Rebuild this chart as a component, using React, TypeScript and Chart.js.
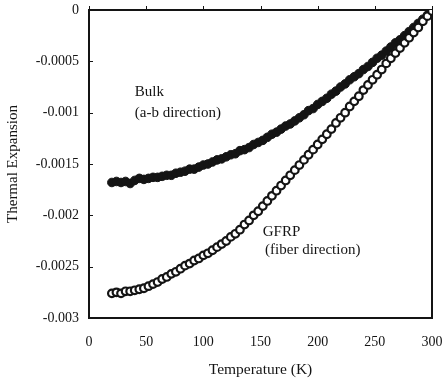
import React, { useEffect, useRef } from "react";
import { Chart, registerables } from "chart.js";

Chart.register(...registerables);

const temperatures = [
  20, 24, 28, 32, 36, 40, 44, 48, 52, 56, 60, 64, 68, 72, 76, 80, 84, 88, 92, 96,
  100, 104, 108, 112, 116, 120, 124, 128, 132, 136, 140, 144, 148, 152, 156, 160,
  164, 168, 172, 176, 180, 184, 188, 192, 196, 200, 204, 208, 212, 216, 220, 224,
  228, 232, 236, 240, 244, 248, 252, 256, 260, 264, 268, 272, 276, 280, 284, 288,
  292, 296, 300,
];

const bulkValues = [
  -0.00168, -0.00167, -0.00168, -0.00167, -0.00169, -0.00166, -0.00164, -0.00165,
  -0.00164, -0.00163, -0.00163, -0.00162, -0.00161, -0.00161, -0.00159, -0.00158,
  -0.00157, -0.00155, -0.00155, -0.00153, -0.00151, -0.0015, -0.00148, -0.00146,
  -0.00145, -0.00143, -0.00141, -0.0014, -0.00137, -0.00136, -0.00134, -0.00131,
  -0.00129, -0.00127, -0.00124, -0.00121, -0.00119, -0.00116, -0.00113, -0.00111,
  -0.00108, -0.00105, -0.00102, -0.00098, -0.00096, -0.00092, -0.00089, -0.00086,
  -0.00082, -0.00079, -0.00075, -0.00072, -0.00068, -0.00065, -0.00062, -0.00058,
  -0.00055, -0.00051, -0.00047, -0.00044, -0.0004, -0.00036, -0.00032, -0.00029,
  -0.00025, -0.00021, -0.00017, -0.00013, -0.00009, -0.00005, -0.00001,
];

const gfrpValues = [
  -0.00276, -0.00275, -0.00276, -0.00274, -0.00274, -0.00273, -0.00272, -0.00271,
  -0.00269, -0.00267, -0.00265, -0.00262, -0.0026, -0.00257, -0.00255, -0.00252,
  -0.00249, -0.00247, -0.00244, -0.00242, -0.00239, -0.00237, -0.00234, -0.00231,
  -0.00228, -0.00225, -0.00221, -0.00218, -0.00214, -0.00209, -0.00205, -0.002,
  -0.00196, -0.00191, -0.00186, -0.00181, -0.00176, -0.00171, -0.00166, -0.00161,
  -0.00156, -0.00151, -0.00146, -0.00141, -0.00136, -0.00131, -0.00126, -0.00121,
  -0.00116, -0.0011, -0.00105, -0.001, -0.00094, -0.00089, -0.00084, -0.00078,
  -0.00073, -0.00068, -0.00063, -0.00058, -0.00052, -0.00047, -0.00042, -0.00037,
  -0.00032, -0.00027, -0.00022, -0.00017, -0.00011, -0.00006, -0.00001,
];

const xTicks = [0, 50, 100, 150, 200, 250, 300];
const yTicks = [0, -0.0005, -0.001, -0.0015, -0.002, -0.0025, -0.003];
const yTickLabels = ["0", "-0.0005", "-0.001", "-0.0015", "-0.002", "-0.0025", "-0.003"];

const annotations = [
  { text: "Bulk", x: 40, y: -0.0008 },
  { text: "(a-b direction)", x: 40, y: -0.001 },
  { text: "GFRP", x: 152, y: -0.00216 },
  { text: "(fiber direction)", x: 154, y: -0.00234 },
];

const FONT = "'Liberation Serif', 'Times New Roman', serif";
const INK = "#141414";

export default function App() {
  const canvasRef = useRef<HTMLCanvasElement | null>(null);

  useEffect(() => {
    const canvas = canvasRef.current;
    if (!canvas) return;

    const framePlugin = {
      id: "frameAndText",
      beforeDatasetsDraw(chart: any) {
        const { ctx, chartArea } = chart;
        const xs = chart.scales.x;
        const ys = chart.scales.y;
        ctx.save();
        ctx.strokeStyle = INK;
        ctx.lineWidth = 2;
        ctx.strokeRect(
          chartArea.left,
          chartArea.top,
          chartArea.right - chartArea.left,
          chartArea.bottom - chartArea.top
        );
        ctx.lineWidth = 1;
        yTicks.forEach((v) => {
          const py = Math.round(ys.getPixelForValue(v)) + 0.5;
          ctx.beginPath();
          ctx.moveTo(chartArea.left, py);
          ctx.lineTo(chartArea.left + 4, py);
          ctx.stroke();
        });
        xTicks.forEach((v) => {
          const px = Math.round(xs.getPixelForValue(v)) + 0.5;
          ctx.beginPath();
          ctx.moveTo(px, chartArea.top);
          ctx.lineTo(px, chartArea.top - 4);
          ctx.stroke();
        });
        ctx.fillStyle = INK;
        ctx.font = `15px ${FONT}`;
        ctx.textAlign = "left";
        ctx.textBaseline = "middle";
        annotations.forEach((a) => {
          ctx.fillText(a.text, xs.getPixelForValue(a.x), ys.getPixelForValue(a.y));
        });
        ctx.restore();
      },
    };

    const chart = new Chart(canvas, {
      type: "scatter",
      data: {
        datasets: [
          {
            label: "GFRP (fiber direction)",
            data: temperatures.map((t, i) => ({ x: t, y: gfrpValues[i] })),
            pointRadius: 3.8,
            pointBackgroundColor: "#ffffff",
            pointBorderColor: INK,
            pointBorderWidth: 2.2,
            showLine: false,
          },
          {
            label: "Bulk (a-b direction)",
            data: temperatures.map((t, i) => ({ x: t, y: bulkValues[i] })),
            pointRadius: 4.3,
            pointBackgroundColor: INK,
            pointBorderColor: INK,
            pointBorderWidth: 1,
            showLine: false,
          },
        ],
      },
      options: {
        responsive: false,
        animation: false,
        devicePixelRatio: 1,
        layout: { padding: { top: 10, right: 11, left: 0, bottom: 0 } },
        plugins: {
          legend: { display: false },
          tooltip: { enabled: false },
        },
        scales: {
          x: {
            type: "linear",
            min: 0,
            max: 300,
            afterFit: (scale: any) => {
              scale.height = 65;
              scale.paddingLeft = 0;
              scale.paddingRight = 0;
            },
            afterBuildTicks: (scale: any) => {
              scale.ticks = xTicks.map((v) => ({ value: v }));
            },
            grid: { display: false, drawTicks: false },
            border: { display: false },
            ticks: {
              padding: 16,
              color: INK,
              font: { family: FONT, size: 14 },
              maxRotation: 0,
              callback: (v: any) => String(v),
            },
            title: {
              display: true,
              text: "Temperature (K)",
              color: INK,
              font: { family: FONT, size: 15.5 },
              padding: { top: 4, bottom: 4 },
            },
          },
          y: {
            type: "linear",
            min: -0.003,
            max: 0,
            afterFit: (scale: any) => {
              scale.width = 89;
              scale.paddingTop = 0;
              scale.paddingBottom = 0;
            },
            afterBuildTicks: (scale: any) => {
              scale.ticks = yTicks.map((v) => ({ value: v }));
            },
            grid: { display: false, drawTicks: false },
            border: { display: false },
            ticks: {
              padding: 10,
              color: INK,
              font: { family: FONT, size: 14 },
              callback: (v: any) => {
                const idx = yTicks.findIndex((t) => Math.abs(t - v) < 1e-9);
                return idx >= 0 ? yTickLabels[idx] : "";
              },
            },
            title: {
              display: true,
              text: "Thermal Expansion",
              color: INK,
              font: { family: FONT, size: 15 },
              padding: { top: 4, bottom: 4 },
            },
          },
        },
      },
      plugins: [framePlugin],
    });

    return () => {
      chart.destroy();
    };
  }, []);

  return (
    <div style={{ position: "absolute", left: 0, top: 0, width: 443, height: 383, background: "#fff" }}>
      <canvas ref={canvasRef} width={443} height={383} />
    </div>
  );
}
